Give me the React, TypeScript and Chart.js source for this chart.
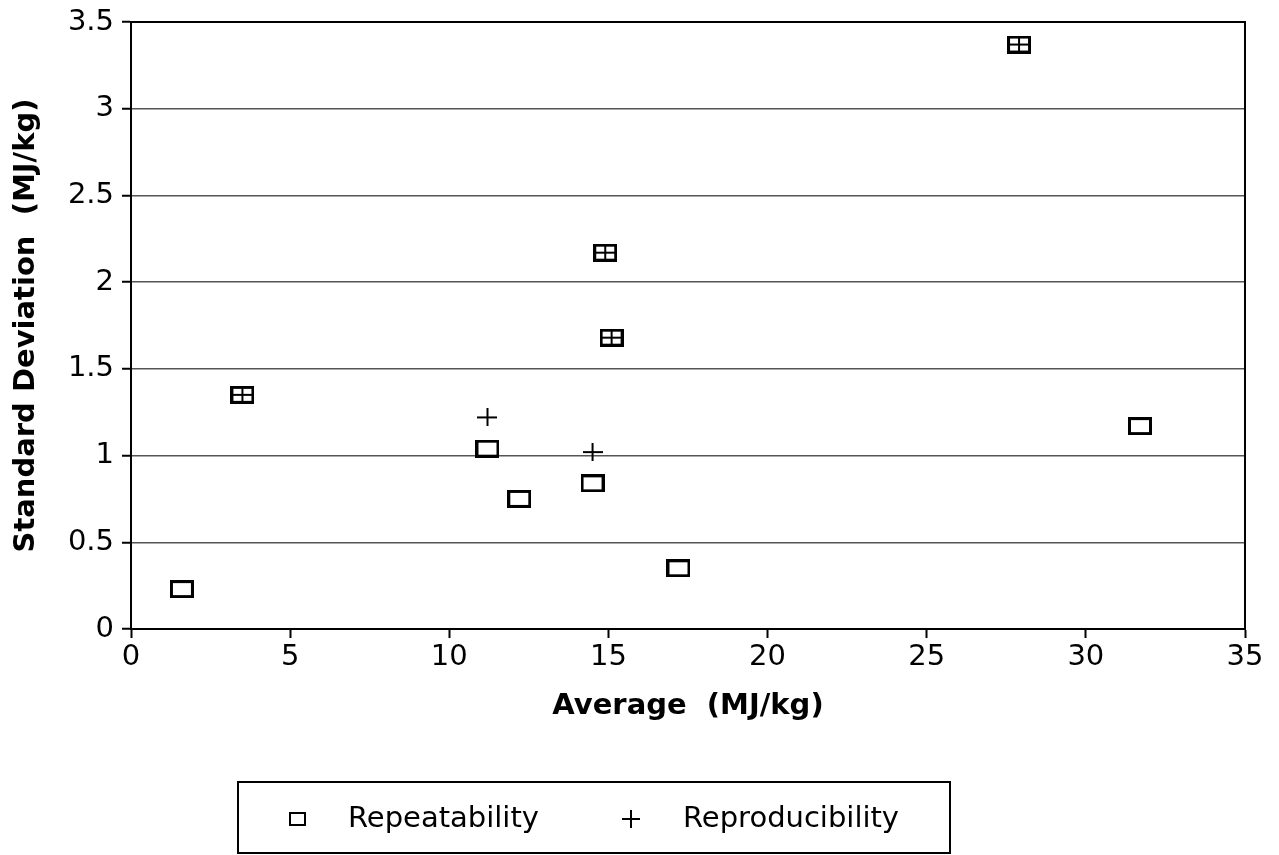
import React, { useEffect, useRef } from 'react';
import { Chart, registerables } from 'chart.js';

Chart.register(...registerables);

// Data
const repeatX = [1.6, 3.5, 11.2, 12.2, 14.5, 14.9, 15.1, 17.2, 27.9, 31.7];
const repeatY = [0.23, 1.35, 1.04, 0.75, 0.84, 2.17, 1.68, 0.35, 3.37, 1.17];
const reprodX = [3.5, 11.2, 14.5, 14.9, 15.1, 27.9];
const reprodY = [1.35, 1.22, 1.02, 2.17, 1.68, 3.37];

const seriesNames = ['Repeatability', 'Reproducibility'];
const xTitle = 'Average  (MJ/kg)';
const yTitle = 'Standard Deviation  (MJ/kg)';

const FONT = '"DejaVu Sans", Verdana, sans-serif';

function makeRect(w: number, h: number, lw: number) {
  const c = document.createElement('canvas');
  c.width = w;
  c.height = h;
  const ctx = c.getContext('2d')!;
  ctx.strokeStyle = '#000';
  ctx.lineWidth = lw;
  ctx.strokeRect(lw / 2, lw / 2, w - lw, h - lw);
  return c;
}

function makePlus(w: number, h: number, lw: number) {
  const c = document.createElement('canvas');
  c.width = w;
  c.height = h;
  const ctx = c.getContext('2d')!;
  ctx.fillStyle = '#000';
  ctx.fillRect(0, Math.round(h / 2 - lw / 2), w, lw);
  ctx.fillRect(Math.round(w / 2 - lw / 2), 0, lw, h);
  return c;
}

const decorPlugin = {
  id: 'decor',
  beforeDatasetsDraw(chart: any) {
    const { ctx, chartArea } = chart;
    ctx.save();
    ctx.strokeStyle = '#000';
    ctx.lineWidth = 2;
    ctx.beginPath();
    ctx.moveTo(chartArea.left, chartArea.top);
    ctx.lineTo(chartArea.right, chartArea.top);
    ctx.lineTo(chartArea.right, chartArea.bottom);
    ctx.stroke();
    ctx.restore();
  },
  afterDraw(chart: any) {
    const { ctx, chartArea } = chart;
    ctx.save();
    ctx.fillStyle = '#000';
    ctx.font = `bold 29px ${FONT}`;
    ctx.textAlign = 'center';
    ctx.textBaseline = 'middle';
    // x title
    ctx.fillText(xTitle, (chartArea.left + chartArea.right) / 2, 706);
    // y title
    ctx.save();
    ctx.translate(26, (chartArea.top + chartArea.bottom) / 2);
    ctx.rotate(-Math.PI / 2);
    ctx.fillText(yTitle, 0, 0);
    ctx.restore();

    // legend box
    ctx.strokeStyle = '#000';
    ctx.lineWidth = 2;
    ctx.strokeRect(238, 782, 712, 71);
    const cy = 819;
    // square marker
    ctx.lineWidth = 2;
    ctx.strokeRect(290, cy - 6, 15, 12);
    // plus marker
    ctx.fillRect(622, cy - 1, 18, 2);
    ctx.fillRect(630, cy - 9, 2, 18);
    ctx.font = `29px ${FONT}`;
    ctx.textAlign = 'left';
    ctx.fillText(seriesNames[0], 348, cy);
    ctx.fillText(seriesNames[1], 683, cy);
    ctx.restore();
  },
};

export default function App() {
  const ref = useRef<HTMLCanvasElement>(null);

  useEffect(() => {
    document.body.style.margin = '0';
    const rectImg = makeRect(24, 18, 3);
    const plusImg = makePlus(20, 18, 2);
    const chart = new Chart(ref.current!, {
      type: 'scatter',
      data: {
        datasets: [
          {
            label: seriesNames[0],
            data: repeatX.map((x, i) => ({ x, y: repeatY[i] })),
            pointStyle: rectImg as any,
            borderColor: '#000',
            backgroundColor: '#000',
          },
          {
            label: seriesNames[1],
            data: reprodX.map((x, i) => ({ x, y: reprodY[i] })),
            pointStyle: plusImg as any,
            borderColor: '#000',
            backgroundColor: '#000',
          },
        ],
      },
      options: {
        animation: false,
        responsive: false,
        devicePixelRatio: 1,
        layout: { padding: { top: 22, right: 34, left: 0, bottom: 0 } },
        plugins: {
          legend: { display: false },
          tooltip: { enabled: false },
        },
        scales: {
          x: {
            type: 'linear',
            min: 0,
            max: 35,
            ticks: {
              stepSize: 5,
              color: '#000',
              font: { family: FONT, size: 29 },
              padding: 2,
              callback: (v: any) => String(Number(v)),
            },
            grid: { drawOnChartArea: false, tickLength: 9, tickColor: '#000', tickWidth: 2 },
            border: { color: '#000', width: 2 },
            afterFit: (s: any) => {
              s.height = 226;
              s.paddingLeft = 0;
              s.paddingRight = 0;
            },
          },
          y: {
            type: 'linear',
            min: 0,
            max: 3.5,
            ticks: {
              stepSize: 0.5,
              color: '#000',
              font: { family: FONT, size: 29 },
              padding: 8,
              callback: (v: any) => String(Number(v)),
            },
            grid: { color: '#555', lineWidth: 1.5, tickLength: 9, tickColor: '#000', tickWidth: 2 },
            border: { color: '#000', width: 2 },
            afterFit: (s: any) => {
              s.width = 131;
              s.paddingTop = 0;
              s.paddingBottom = 0;
            },
          },
        },
      },
      plugins: [decorPlugin],
    });
    return () => chart.destroy();
  }, []);

  return (
    <div style={{ position: 'absolute', left: 0, top: 0, width: 1279, height: 855, background: '#fff' }}>
      <canvas ref={ref} width={1279} height={855} style={{ display: 'block' }} />
    </div>
  );
}
